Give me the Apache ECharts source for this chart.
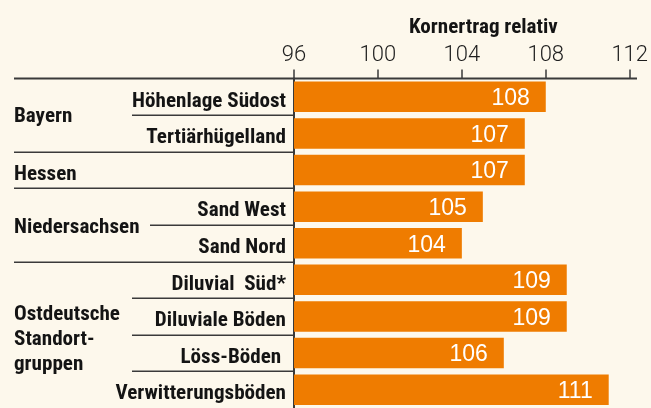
<!DOCTYPE html>
<html><head><meta charset="utf-8">
<script src="https://cdn.jsdelivr.net/npm/echarts@6/dist/echarts.min.js"></script>
<style>html,body{margin:0;padding:0;background:#fdf8ec;}#c{width:651px;height:408px;}</style>
</head><body><div id="c"></div>
<script>
// ---- data ----
const subLabels = ['Höhenlage Südost','Tertiärhügelland','','Sand West','Sand Nord','Diluvial  Süd*','Diluviale Böden','Löss-Böden ','Verwitterungsböden'];
const values = [108,107,107,105,104,109,109,106,111];
const tickValues = [96,100,104,108,112];
const groupNames = ['Bayern','Hessen','Niedersachsen','Ostdeutsche\nStandort-\ngruppen'];
const groupFirstRow = [0,2,3,5];
const groupLastRow = [1,2,4,8];
const axisTitle = 'Kornertrag relativ';

// ---- style ----
const orange = '#ef7c00', ink = '#141414', lineCol = '#3a3a3a', bg = '#fdf8ec';
const narrow = 'Roboto Condensed';
const ctx = document.createElement('canvas').getContext('2d');
ctx.font = 'bold 20px "' + narrow + '"';
const labSize = Math.round(20 * 154 / ctx.measureText('Höhenlage Südost').width * 10) / 10;
const titleSize = Math.round(20 * 149 / ctx.measureText(axisTitle).width * 10) / 10;

const chart = echarts.init(document.getElementById('c'));
chart.setOption({
  backgroundColor: bg,
  animation: false,
  grid: {left: 294, top: 78.5, width: 336, height: 337.5, containLabel: false},
  xAxis: {
    type: 'value', position: 'top', min: tickValues[0], max: tickValues[tickValues.length-1], interval: 4,
    name: axisTitle, nameLocation: 'middle', nameGap: 40,
    nameTextStyle: {fontFamily: narrow, fontWeight: 'bold', fontSize: titleSize, color: ink, padding: [0,0,0,43]},
    axisLine: {show: false},
    axisTick: {show: true, length: 9, lineStyle: {color: lineCol, width: 1.5}},
    axisLabel: {fontSize: 22, color: '#1e1e1e', margin: 12, fontFamily: 'Roboto', fontWeight: 300},
    splitLine: {show: false}
  },
  yAxis: {
    type: 'category', inverse: true, data: subLabels,
    axisLine: {show: true, lineStyle: {color: lineCol, width: 2}},
    axisTick: {show: false},
    axisLabel: {margin: 8, formatter: '{s|{value}}',
      rich: {s: {fontFamily: narrow, fontWeight: 'bold', fontSize: labSize, color: ink, padding: [9,0,0,0]}}}
  },
  series: [{
    type: 'bar', data: values, barWidth: 30.5, itemStyle: {color: orange},
    label: {show: true, position: 'insideRight', distance: 16, offset: [0, 2], color: '#fff', fontSize: 23, fontFamily: 'Liberation Sans'}
  }]
});

function rowY(i){ return chart.convertToPixel({yAxisIndex: 0}, i); }
const band = rowY(1) - rowY(0);
const axisY = rowY(0) - band/2;
const gfx = [];
gfx.push({type:'line', shape:{x1:14, y1:axisY, x2:637, y2:axisY}, style:{stroke:lineCol, lineWidth:2}, z:10});
const groupStartSet = new Set(groupFirstRow);
for (let i = 0; i < values.length - 1; i++) {
  const y = Math.round((rowY(i) + rowY(i+1)) / 2) + 0.25;
  let x1 = groupStartSet.has(i+1) ? 14 : 132;
  if (subLabels[i] === 'Sand West') x1 = 150;
  gfx.push({type:'line', shape:{x1:x1, y1:y, x2:293, y2:y}, style:{stroke:lineCol, lineWidth:1.5}, z:10});
}
const groupShift = [2, 4.5, 3, 5];
groupNames.forEach((g, k) => {
  const cy = (rowY(groupFirstRow[k]) + rowY(groupLastRow[k])) / 2;
  gfx.push({type:'text', x:14, y: cy + groupShift[k], z:10,
    style:{text:g, fontFamily:narrow, fontWeight:'bold', fontSize:labSize, fill:ink, verticalAlign:'middle', align:'left', lineHeight:25}});
});
chart.setOption({graphic: gfx});
</script>
</body></html>
